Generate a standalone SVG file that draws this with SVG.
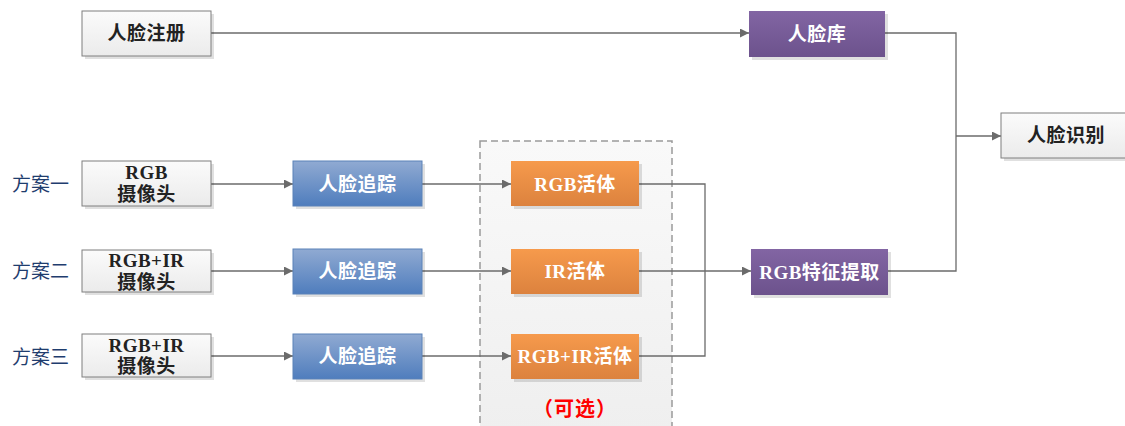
<svg xmlns="http://www.w3.org/2000/svg" width="1125" height="426" viewBox="0 0 1125 426">
<defs>
<linearGradient id="gGray" x1="0" y1="0" x2="0" y2="1"><stop offset="0" stop-color="#fbfbfb"/><stop offset="1" stop-color="#ebebeb"/></linearGradient>
<linearGradient id="gBlue" x1="0" y1="0" x2="0" y2="1"><stop offset="0" stop-color="#90aad2"/><stop offset="1" stop-color="#4f7dbd"/></linearGradient>
<linearGradient id="gOrange" x1="0" y1="0" x2="0" y2="1"><stop offset="0" stop-color="#f69a4c"/><stop offset="1" stop-color="#dc823e"/></linearGradient>
<linearGradient id="gPurple" x1="0" y1="0" x2="0" y2="1"><stop offset="0" stop-color="#8265a3"/><stop offset="1" stop-color="#6c528c"/></linearGradient>
<linearGradient id="gOpt" x1="0" y1="0" x2="0" y2="1"><stop offset="0" stop-color="#f9f9f9"/><stop offset="1" stop-color="#efefef"/></linearGradient>
<marker id="arr" viewBox="0 0 10 10" refX="10" refY="5" markerWidth="9" markerHeight="9" markerUnits="userSpaceOnUse" orient="auto"><path d="M0,0 L10,5 L0,10 z" fill="#6b6b6b"/></marker>
</defs>
<style>
.shadow{fill:#000;opacity:0.12}
.gray{fill:url(#gGray);stroke:#7f7f7f;stroke-width:1}
.blue{fill:url(#gBlue);stroke:#5b82b8;stroke-width:1}
.orange{fill:url(#gOrange);stroke:none}
.purple{fill:url(#gPurple);stroke:none}
.t{font-family:"Liberation Serif","Noto Sans CJK SC",serif;font-size:19px;font-weight:bold;text-anchor:middle;dominant-baseline:central;letter-spacing:0.5px}
.dark{fill:#222}
.light{fill:#fff}
.lab{font-family:"Liberation Serif","Noto Sans CJK SC",serif;font-size:19px;fill:#1f3d6e;dominant-baseline:central}
.ln{fill:none;stroke:#6b6b6b;stroke-width:1.3}
</style>
<rect id="optional-bg" x="480" y="141" width="192" height="290" fill="url(#gOpt)" stroke="#9a9a9a" stroke-width="1.5" stroke-dasharray="7,4"/>
<text x="575" y="409" font-family="Liberation Serif,'Noto Sans CJK SC',serif" font-size="20" font-weight="bold" fill="#ff0000" text-anchor="middle" dominant-baseline="central" letter-spacing="1">（可选）</text>
<g id="connectors">
<path class="ln" d="M211,33 H749" marker-end="url(#arr)"/>
<path class="ln" d="M885,33 H956 V271 H888"/>
<path class="ln" d="M956,136 H1001" marker-end="url(#arr)"/>
<path class="ln" d="M211,184 H293" marker-end="url(#arr)"/>
<path class="ln" d="M211,271 H293" marker-end="url(#arr)"/>
<path class="ln" d="M211,356 H293" marker-end="url(#arr)"/>
<path class="ln" d="M422,184 H511" marker-end="url(#arr)"/>
<path class="ln" d="M422,271 H511" marker-end="url(#arr)"/>
<path class="ln" d="M422,356 H511" marker-end="url(#arr)"/>
<path class="ln" d="M639,184 H705 V356 H639"/>
<path class="ln" d="M639,271 H751" marker-end="url(#arr)"/>
</g>
<g id="n-register"><rect class="shadow" x="85" y="14" width="129" height="45"/><rect class="gray" x="82" y="11" width="129" height="45"/><text class="t dark" x="146.5" y="33.5">人脸注册</text></g>
<g id="n-facedb"><rect class="shadow" x="752" y="14" width="136" height="46"/><rect class="purple" x="749" y="11" width="136" height="46"/><text class="t light" x="817" y="34">人脸库</text></g>
<g id="n-recognize"><rect class="shadow" x="1004" y="116" width="124" height="45"/><rect class="gray" x="1001" y="113" width="130" height="45"/><text class="t dark" x="1066" y="135.5">人脸识别</text></g>
<g id="n-feature"><rect class="shadow" x="754" y="252" width="137" height="46"/><rect class="purple" x="751" y="249" width="137" height="46"/><text class="t light" x="819.5" y="272">RGB特征提取</text></g>
<text class="lab" x="12" y="184">方案一</text>
<text class="lab" x="12" y="271">方案二</text>
<text class="lab" x="12" y="357">方案三</text>
<g id="n-cam1"><rect class="shadow" x="85" y="164" width="129" height="45"/><rect class="gray" x="82" y="161" width="129" height="45"/><text class="t dark" x="146.5" y="172.5">RGB</text><text class="t dark" x="146.5" y="194">摄像头</text></g>
<g id="n-cam2"><rect class="shadow" x="85" y="253" width="129" height="42"/><rect class="gray" x="82" y="250" width="129" height="42"/><text class="t dark" x="146.5" y="260.5">RGB+IR</text><text class="t dark" x="146.5" y="282">摄像头</text></g>
<g id="n-cam3"><rect class="shadow" x="85" y="337" width="129" height="43"/><rect class="gray" x="82" y="334" width="129" height="43"/><text class="t dark" x="146.5" y="345">RGB+IR</text><text class="t dark" x="146.5" y="366.5">摄像头</text></g>
<g id="n-track1"><rect class="shadow" x="296" y="164" width="129" height="45"/><rect class="blue" x="293" y="161" width="129" height="45"/><text class="t light" x="357.5" y="184">人脸追踪</text></g>
<g id="n-track2"><rect class="shadow" x="296" y="252" width="129" height="45"/><rect class="blue" x="293" y="249" width="129" height="45"/><text class="t light" x="357.5" y="271.5">人脸追踪</text></g>
<g id="n-track3"><rect class="shadow" x="296" y="337" width="129" height="45"/><rect class="blue" x="293" y="334" width="129" height="45"/><text class="t light" x="357.5" y="356.5">人脸追踪</text></g>
<g id="n-live1"><rect class="shadow" x="514" y="164" width="128" height="45"/><rect class="orange" x="511" y="161" width="128" height="45"/><text class="t light" x="575" y="184">RGB活体</text></g>
<g id="n-live2"><rect class="shadow" x="514" y="252" width="128" height="45"/><rect class="orange" x="511" y="249" width="128" height="45"/><text class="t light" x="575" y="271.5">IR活体</text></g>
<g id="n-live3"><rect class="shadow" x="514" y="337" width="128" height="45"/><rect class="orange" x="511" y="334" width="128" height="45"/><text class="t light" x="575" y="356.5">RGB+IR活体</text></g>
</svg>
